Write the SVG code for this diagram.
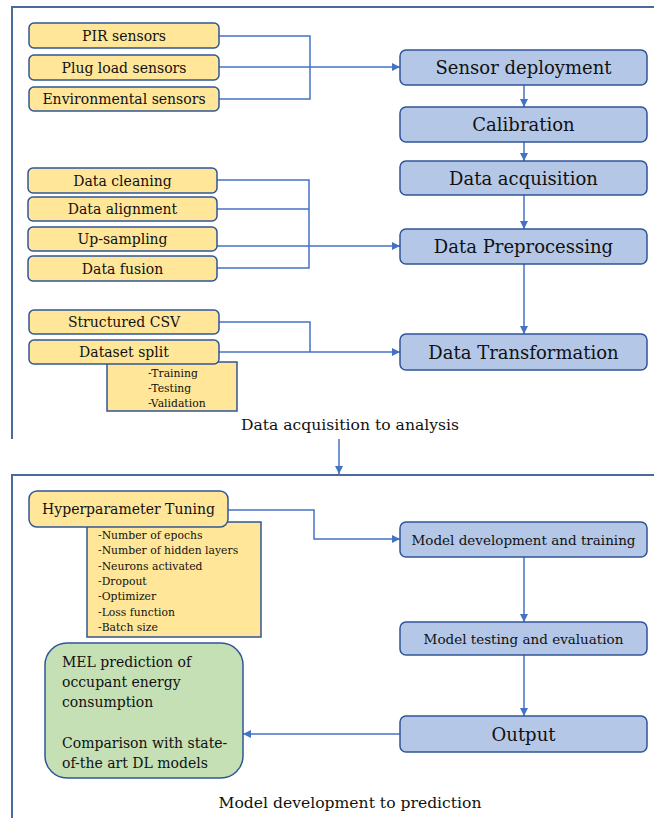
<svg xmlns="http://www.w3.org/2000/svg" width="654" height="818" viewBox="0 0 654 818">
<style>
text{font-family:"DejaVu Serif","Liberation Serif",serif;fill:#111}
.frame{fill:none;stroke:#4a6a9c;stroke-width:2}
.y{fill:#ffe699;stroke:#2f5597;stroke-width:1.5}
.b{fill:#b4c7e7;stroke:#2f5597;stroke-width:1.5}
.g{fill:#c5e0b4;stroke:#2f5597;stroke-width:1.5}
.c{fill:none;stroke:#4472c4;stroke-width:1.5}
.t14{font-size:14px;text-anchor:middle}
.t18{font-size:18px;text-anchor:middle}
.t135{font-size:13.5px;text-anchor:middle}
.s{font-size:10.8px}
.cap{font-size:15.6px;text-anchor:middle}
.gt{font-size:14px}
</style>
<defs>
<marker id="ah" viewBox="0 0 10 10" refX="10" refY="5" markerWidth="8" markerHeight="8" markerUnits="userSpaceOnUse" orient="auto">
<path d="M0,0 L10,5 L0,10 z" fill="#4472c4"/>
</marker>
</defs>

<g id="frames">
<path class="frame" d="M12,439 V7 H654"/>
<path class="frame" d="M12,818 V475 H654"/>
</g>

<g id="connectors">
<path class="c" d="M219,36 H310 V99 H219"/>
<path class="c" d="M219,67 H400" marker-end="url(#ah)"/>
<path class="c" d="M217,180 H309 V268 H217"/>
<path class="c" d="M217,209 H309"/>
<path class="c" d="M217,246 H400" marker-end="url(#ah)"/>
<path class="c" d="M219,322 H310 V352"/>
<path class="c" d="M219,352 H400" marker-end="url(#ah)"/>
<path class="c" d="M524,85 V107" marker-end="url(#ah)"/>
<path class="c" d="M524,142 V161" marker-end="url(#ah)"/>
<path class="c" d="M524,195 V229" marker-end="url(#ah)"/>
<path class="c" d="M524,264 V334" marker-end="url(#ah)"/>
<path class="c" d="M339,439 V474" marker-end="url(#ah)"/>
<path class="c" d="M228,510 H314 V539 H400" marker-end="url(#ah)"/>
<path class="c" d="M524,557 V622" marker-end="url(#ah)"/>
<path class="c" d="M524,655 V716" marker-end="url(#ah)"/>
<path class="c" d="M400,734 H243" marker-end="url(#ah)"/>
</g>

<g id="pir"><rect class="y" x="29" y="23" width="190" height="25" rx="5"/><text class="t14" x="124" y="40.5">PIR sensors</text></g>
<g id="plug"><rect class="y" x="29" y="55" width="190" height="25" rx="5"/><text class="t14" x="124" y="72.5">Plug load sensors</text></g>
<g id="env"><rect class="y" x="29" y="87" width="190" height="24" rx="5"/><text class="t14" x="124" y="104">Environmental sensors</text></g>

<g id="cleaning"><rect class="y" x="28" y="168" width="189" height="25" rx="5"/><text class="t14" x="122.5" y="185.5">Data cleaning</text></g>
<g id="alignment"><rect class="y" x="28" y="197" width="189" height="24" rx="5"/><text class="t14" x="122.5" y="214">Data alignment</text></g>
<g id="upsampling"><rect class="y" x="28" y="227" width="189" height="24" rx="5"/><text class="t14" x="122.5" y="244">Up-sampling</text></g>
<g id="fusion"><rect class="y" x="28" y="256" width="189" height="25" rx="5"/><text class="t14" x="122.5" y="273.5">Data fusion</text></g>

<g id="csv"><rect class="y" x="29" y="310" width="190" height="24" rx="5"/><text class="t14" x="124" y="327">Structured CSV</text></g>
<g id="split-list"><rect class="y" x="107" y="362" width="130" height="49" stroke-width="1.2"/>
<text class="s" x="148" y="377">-Training</text>
<text class="s" x="148" y="392">-Testing</text>
<text class="s" x="148" y="407">-Validation</text></g>
<g id="split"><rect class="y" x="29" y="340" width="190" height="24" rx="5"/><text class="t14" x="124" y="357">Dataset split</text></g>

<g id="sensor-deployment"><rect class="b" x="400" y="50" width="247" height="35" rx="6"/><text class="t18" x="523.5" y="74">Sensor deployment</text></g>
<g id="calibration"><rect class="b" x="400" y="107" width="247" height="35" rx="6"/><text class="t18" x="523.5" y="131">Calibration</text></g>
<g id="acquisition"><rect class="b" x="400" y="161" width="247" height="34" rx="6"/><text class="t18" x="523.5" y="184.5">Data acquisition</text></g>
<g id="preprocessing"><rect class="b" x="400" y="229" width="247" height="35" rx="6"/><text class="t18" x="523.5" y="253">Data Preprocessing</text></g>
<g id="transformation"><rect class="b" x="400" y="334" width="247" height="36" rx="6"/><text class="t18" x="523.5" y="358.5">Data Transformation</text></g>

<text class="cap" x="350" y="430">Data acquisition to analysis</text>

<g id="hp-list"><rect class="y" x="87" y="522" width="174" height="115" stroke-width="1.2"/>
<text class="s" x="98" y="539">-Number of epochs</text>
<text class="s" x="98" y="554.3">-Number of hidden layers</text>
<text class="s" x="98" y="569.7">-Neurons activated</text>
<text class="s" x="98" y="585">-Dropout</text>
<text class="s" x="98" y="600.3">-Optimizer</text>
<text class="s" x="98" y="615.7">-Loss function</text>
<text class="s" x="98" y="631">-Batch size</text></g>
<g id="hyperparameter"><rect class="y" x="29" y="491" width="199" height="36" rx="8"/><text class="t14" x="128.5" y="514" font-size="14.2px">Hyperparameter Tuning</text></g>

<g id="model-dev"><rect class="b" x="400" y="522" width="247" height="35" rx="6"/><text class="t135" x="523.5" y="544.5">Model development and training</text></g>
<g id="model-test"><rect class="b" x="400" y="622" width="247" height="33" rx="6"/><text class="t135" x="523.5" y="643.5">Model testing and evaluation</text></g>
<g id="output"><rect class="b" x="400" y="716" width="247" height="36" rx="6"/><text class="t18" x="523.5" y="740.5">Output</text></g>

<g id="prediction"><rect class="g" x="45" y="643" width="198" height="135" rx="22"/>
<text class="gt" x="62" y="667">MEL prediction of</text>
<text class="gt" x="62" y="687">occupant energy</text>
<text class="gt" x="62" y="707">consumption</text>
<text class="gt" x="62" y="748">Comparison with state-</text>
<text class="gt" x="62" y="768">of-the art DL models</text></g>

<text class="cap" x="350" y="808">Model development to prediction</text>
</svg>
